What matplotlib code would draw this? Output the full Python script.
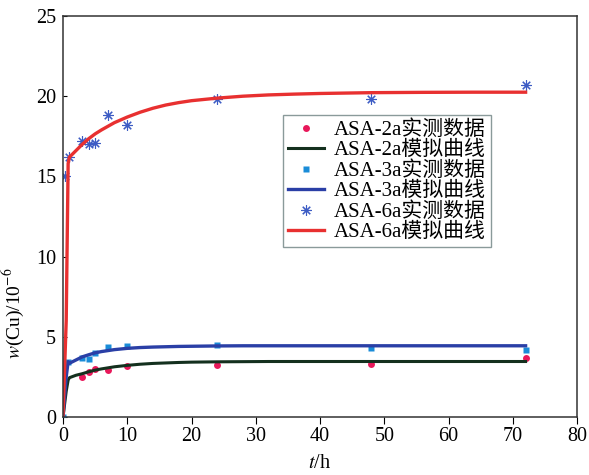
import matplotlib
matplotlib.use("Agg")
import matplotlib.pyplot as plt

plt.rcParams["font.family"] = ["Liberation Serif", "Noto Sans CJK SC"]
plt.rcParams["mathtext.fontset"] = "stix"

# measured data (t in h, w(Cu) in 1e-6)
t_2a = [3, 4, 5, 7, 10, 24, 48, 72]
w_2a = [2.5, 2.8, 3.0, 2.9, 3.2, 3.25, 3.3, 3.7]
t_3a = [0, 0.8, 3, 4, 5, 7, 10, 24, 48, 72]
w_3a = [0, 3.45, 3.7, 3.6, 4.0, 4.35, 4.45, 4.5, 4.3, 4.2]
t_6a = [0.3, 1, 3, 4, 5, 7, 10, 24, 48, 72]
w_6a = [15.05, 16.2, 17.2, 17.0, 17.1, 18.8, 18.2, 19.8, 19.8, 20.7]

# fitted curves
t_fit = [0, 0.5, 0.8, 1, 2, 3, 4, 5, 6, 8, 10, 12, 14, 16, 18, 20, 24, 28, 32,
         36, 40, 48, 56, 64, 72]
fit_2a = [0, 1.6, 2.3, 2.45, 2.6, 2.7, 2.82, 2.92, 3.0, 3.13, 3.22, 3.29, 3.34,
          3.37, 3.4, 3.42, 3.44, 3.45, 3.46, 3.46, 3.46, 3.46, 3.46, 3.46, 3.46]
fit_3a = [0, 2.5, 3.45, 3.35, 3.55, 3.75, 3.88, 4.0, 4.08, 4.2, 4.28, 4.33, 4.36,
          4.38, 4.4, 4.41, 4.43, 4.44, 4.44, 4.44, 4.44, 4.44, 4.44, 4.44, 4.44]
fit_6a = [0, 6.0, 15.8, 16.2, 16.6, 17.0, 17.35, 17.65, 17.9, 18.35, 18.7, 19.0,
          19.25, 19.45, 19.6, 19.72, 19.88, 20.0, 20.08, 20.13, 20.17, 20.22,
          20.24, 20.25, 20.25]

labels = ["ASA-2a实测数据", "ASA-2a模拟曲线", "ASA-3a实测数据",
          "ASA-3a模拟曲线", "ASA-6a实测数据", "ASA-6a模拟曲线"]

fig = plt.figure(figsize=(5.89, 4.75), dpi=100)
ax = fig.add_axes([63/589, 1 - 417/475, 514/589, 401/475])

h_2a, = ax.plot(t_2a, w_2a, "o", color="#e8185a", ms=5, mec="none")
h_3a, = ax.plot(t_3a, w_3a, "s", color="#1a8cd8", ms=4.5, mec="none")
h_6a, = ax.plot(t_6a, w_6a, ls="none", marker=(8, 2, 0), color="#3d5cc4",
                ms=7.5, mew=0.8)
l_2a, = ax.plot(t_fit, fit_2a, color="#14301e", lw=2.2)
l_3a, = ax.plot(t_fit, fit_3a, color="#2a3fa6", lw=2.4)
l_6a, = ax.plot(t_fit, fit_6a, color="#e83030", lw=2.4)

ax.set_xlim(0, 80)
ax.set_ylim(0, 25)
ax.set_xticks(range(0, 81, 10))
ax.set_yticks(range(0, 26, 5))
ax.tick_params(axis="x", direction="out", length=5, labelsize=14.5, pad=2)
ax.tick_params(axis="y", direction="in", length=3, labelsize=14.5, pad=5)
for s in ax.spines.values():
    s.set_color("#333333")
    s.set_linewidth(1.1)

ax.set_xlabel("$t$/h", fontsize=14.5, labelpad=6)
ax.set_ylabel("$w$(Cu)/10$^{-6}$", fontsize=14)
ax.yaxis.set_label_coords(-0.072, 0.26)

leg = ax.legend([h_2a, l_2a, h_3a, l_3a, h_6a, l_6a], labels,
                loc="upper left", bbox_to_anchor=(0.428, 0.753),
                borderaxespad=0, fontsize=15, fancybox=False,
                labelspacing=0.04, handlelength=1.7, handletextpad=0.5,
                borderpad=0.25, framealpha=1)
leg.get_frame().set_edgecolor("#8a9a9a")
leg.get_frame().set_linewidth(1.0)

fig.savefig("out.png", dpi=100)
